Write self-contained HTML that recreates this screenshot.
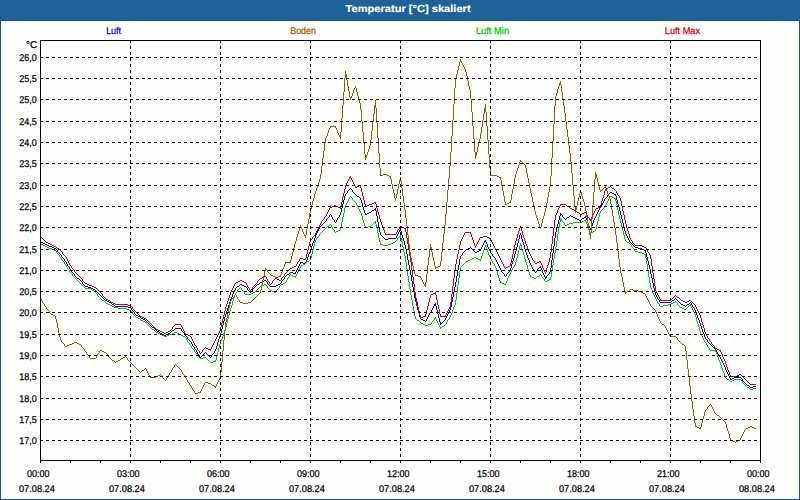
<!DOCTYPE html>
<html><head><meta charset="utf-8"><title>Temperatur</title>
<style>
html,body{margin:0;padding:0;background:#fff;}
body{width:800px;height:500px;overflow:hidden;font-family:"Liberation Sans",sans-serif;}
svg{display:block;}
text{font-family:"Liberation Sans",sans-serif;text-rendering:geometricPrecision;}
</style></head><body>
<svg width="800" height="500" viewBox="0 0 800 500">
<rect x="0" y="0" width="800" height="500" fill="#fdfefc"/>
<defs><pattern id="dz" x="0" y="0" width="8" height="8" patternUnits="userSpaceOnUse"><path fill="#2366a8" d="M2 0h1v1h-1zM4 1h1v1h-1zM7 2h1v1h-1zM3 3h1v1h-1zM1 4h1v1h-1zM6 4h1v1h-1zM2 6h1v1h-1zM4 7h1v1h-1zM7 7h1v1h-1z"/></pattern></defs>
<g shape-rendering="crispEdges">
<rect x="0" y="21" width="1" height="479" fill="#10558f"/>
<rect x="799" y="21" width="1" height="479" fill="#10558f"/>
<rect x="0" y="499" width="800" height="1" fill="#10558f"/>
<rect x="0" y="0" width="800" height="21" fill="#1d6196"/>
<rect x="0" y="0" width="800" height="20" fill="url(#dz)"/>
<rect x="0" y="20" width="800" height="1" fill="#175585"/>
</g>
<text x="345.6" y="12.0" font-size="10.2" font-weight="bold" fill="#ffffff" stroke="#ffffff" stroke-width="0.15" textLength="125.0" lengthAdjust="spacingAndGlyphs">Temperatur [°C] skaliert</text>
<text x="106.2" y="34.0" font-size="9.8" fill="#0000d0" stroke="#0000d0" stroke-width="0.25" textLength="14.8" lengthAdjust="spacingAndGlyphs">Luft</text>
<text x="290.3" y="34.0" font-size="9.8" fill="#9a5a00" stroke="#9a5a00" stroke-width="0.25" textLength="25.6" lengthAdjust="spacingAndGlyphs">Boden</text>
<text x="475.9" y="34.0" font-size="9.8" fill="#00c400" stroke="#00c400" stroke-width="0.25" textLength="33.2" lengthAdjust="spacingAndGlyphs">Luft Min</text>
<text x="664.8" y="34.0" font-size="9.8" fill="#d00000" stroke="#d00000" stroke-width="0.25" textLength="35.2" lengthAdjust="spacingAndGlyphs">Luft Max</text>
<g shape-rendering="crispEdges" stroke="none">
<path fill="#0000e6" d="M40 241h1v1h-1zM41 242h1v1h-1zM42 242h1v1h-1zM43 243h1v1h-1zM44 243h1v1h-1zM45 244h1v1h-1zM46 244h1v1h-1zM47 245h1v1h-1zM48 245h1v1h-1zM49 246h1v1h-1zM50 246h1v1h-1zM51 246h1v1h-1zM52 247h1v1h-1zM53 247h1v1h-1zM54 248h1v1h-1zM55 248h1v1h-1zM56 249h1v1h-1zM57 250h1v2h-1zM58 252h1v1h-1zM59 253h1v1h-1zM60 254h1v1h-1zM61 255h1v2h-1zM62 257h1v1h-1zM63 258h1v1h-1zM64 259h1v2h-1zM65 261h1v1h-1zM66 262h1v2h-1zM67 264h1v2h-1zM68 266h1v1h-1zM69 267h1v2h-1zM70 269h1v1h-1zM71 270h1v2h-1zM72 272h1v1h-1zM73 273h1v1h-1zM74 274h1v2h-1zM75 276h1v1h-1zM76 277h1v1h-1zM77 278h1v1h-1zM78 278h1v1h-1zM79 279h1v1h-1zM80 280h1v1h-1zM81 281h1v1h-1zM82 282h1v2h-1zM83 284h1v1h-1zM84 285h1v1h-1zM85 286h1v1h-1zM86 286h1v1h-1zM87 286h1v1h-1zM88 287h1v1h-1zM89 287h1v1h-1zM90 287h1v1h-1zM91 288h1v1h-1zM92 288h1v1h-1zM93 289h1v1h-1zM94 289h1v1h-1zM95 290h1v1h-1zM96 291h1v1h-1zM97 292h1v1h-1zM98 293h1v1h-1zM99 294h1v1h-1zM100 295h1v1h-1zM101 296h1v1h-1zM102 297h1v1h-1zM103 298h1v1h-1zM104 299h1v1h-1zM105 300h1v1h-1zM106 300h1v1h-1zM107 301h1v1h-1zM108 301h1v1h-1zM109 302h1v1h-1zM110 302h1v1h-1zM111 303h1v1h-1zM112 304h1v1h-1zM113 304h1v1h-1zM114 305h1v1h-1zM115 306h1v1h-1zM116 306h1v1h-1zM117 306h1v1h-1zM118 306h1v1h-1zM119 306h1v1h-1zM120 306h1v1h-1zM121 306h1v1h-1zM122 306h1v1h-1zM123 306h1v1h-1zM124 306h1v1h-1zM125 306h1v1h-1zM126 306h1v1h-1zM127 306h1v1h-1zM128 307h1v1h-1zM129 307h1v1h-1zM130 307h1v1h-1zM131 308h1v2h-1zM132 310h1v1h-1zM133 311h1v1h-1zM134 312h1v2h-1zM135 314h1v1h-1zM136 315h1v1h-1zM137 315h1v1h-1zM138 316h1v1h-1zM139 316h1v1h-1zM140 317h1v1h-1zM141 318h1v1h-1zM142 318h1v1h-1zM143 319h1v1h-1zM144 319h1v1h-1zM145 320h1v1h-1zM146 321h1v1h-1zM147 322h1v1h-1zM148 323h1v1h-1zM149 324h1v1h-1zM150 325h1v1h-1zM151 326h1v1h-1zM152 327h1v1h-1zM153 327h1v1h-1zM154 328h1v1h-1zM155 329h1v1h-1zM156 330h1v1h-1zM157 331h1v1h-1zM158 331h1v1h-1zM159 332h1v1h-1zM160 333h1v1h-1zM161 333h1v1h-1zM162 334h1v1h-1zM163 334h1v1h-1zM164 335h1v1h-1zM165 335h1v1h-1zM166 334h1v1h-1zM167 334h1v1h-1zM168 333h1v1h-1zM169 333h1v1h-1zM170 332h1v1h-1zM171 331h1v1h-1zM172 330h1v1h-1zM173 330h1v1h-1zM174 329h1v1h-1zM175 328h1v1h-1zM176 328h1v1h-1zM177 328h1v1h-1zM178 328h1v1h-1zM179 328h1v1h-1zM180 328h1v1h-1zM181 329h1v2h-1zM182 331h1v1h-1zM183 332h1v1h-1zM184 333h1v2h-1zM185 335h1v1h-1zM186 336h1v1h-1zM187 337h1v2h-1zM188 339h1v1h-1zM189 340h1v1h-1zM190 341h1v1h-1zM191 342h1v2h-1zM192 344h1v2h-1zM193 346h1v1h-1zM194 347h1v2h-1zM195 349h1v1h-1zM196 350h1v2h-1zM197 352h1v2h-1zM198 354h1v1h-1zM199 355h1v2h-1zM200 357h1v1h-1zM201 356h1v1h-1zM202 355h1v1h-1zM203 354h1v1h-1zM204 353h1v1h-1zM205 352h1v1h-1zM206 353h1v1h-1zM207 354h1v1h-1zM208 355h1v1h-1zM209 356h1v1h-1zM210 357h1v1h-1zM211 355h1v2h-1zM212 354h1v1h-1zM213 353h1v1h-1zM214 351h1v2h-1zM215 349h1v2h-1zM216 346h1v3h-1zM217 342h1v4h-1zM218 339h1v3h-1zM219 336h1v3h-1zM220 333h1v3h-1zM221 329h1v4h-1zM222 325h1v4h-1zM223 321h1v4h-1zM224 317h1v4h-1zM225 314h1v3h-1zM226 311h1v3h-1zM227 308h1v3h-1zM228 305h1v3h-1zM229 302h1v3h-1zM230 299h1v3h-1zM231 297h1v2h-1zM232 294h1v3h-1zM233 292h1v2h-1zM234 290h1v2h-1zM235 288h1v2h-1zM236 287h1v1h-1zM237 286h1v1h-1zM238 286h1v1h-1zM239 285h1v1h-1zM240 284h1v1h-1zM241 284h1v1h-1zM242 285h1v1h-1zM243 285h1v1h-1zM244 286h1v1h-1zM245 286h1v1h-1zM246 287h1v1h-1zM247 288h1v2h-1zM248 290h1v1h-1zM249 291h1v1h-1zM250 292h1v1h-1zM251 291h1v1h-1zM252 289h1v2h-1zM253 288h1v1h-1zM254 287h1v1h-1zM255 286h1v1h-1zM256 285h1v1h-1zM257 284h1v1h-1zM258 284h1v1h-1zM259 283h1v1h-1zM260 282h1v1h-1zM261 282h1v1h-1zM262 281h1v1h-1zM263 281h1v1h-1zM264 280h1v1h-1zM265 280h1v1h-1zM266 281h1v1h-1zM267 282h1v2h-1zM268 284h1v1h-1zM269 285h1v1h-1zM270 286h1v1h-1zM271 286h1v1h-1zM272 286h1v1h-1zM273 286h1v1h-1zM274 286h1v1h-1zM275 286h1v1h-1zM276 285h1v1h-1zM277 285h1v1h-1zM278 284h1v1h-1zM279 284h1v1h-1zM280 283h1v1h-1zM281 281h1v2h-1zM282 280h1v1h-1zM283 279h1v1h-1zM284 277h1v2h-1zM285 276h1v1h-1zM286 275h1v1h-1zM287 274h1v1h-1zM288 274h1v1h-1zM289 273h1v1h-1zM290 272h1v1h-1zM291 272h1v1h-1zM292 272h1v1h-1zM293 273h1v1h-1zM294 273h1v1h-1zM295 272h1v2h-1zM296 270h1v2h-1zM297 268h1v2h-1zM298 266h1v2h-1zM299 264h1v2h-1zM300 262h1v2h-1zM301 262h1v1h-1zM302 262h1v1h-1zM303 263h1v1h-1zM304 263h1v1h-1zM305 262h1v2h-1zM306 260h1v2h-1zM307 257h1v3h-1zM308 254h1v3h-1zM309 252h1v2h-1zM310 249h1v3h-1zM311 246h1v3h-1zM312 243h1v3h-1zM313 241h1v2h-1zM314 238h1v3h-1zM315 235h1v3h-1zM316 233h1v2h-1zM317 231h1v2h-1zM318 229h1v2h-1zM319 227h1v2h-1zM320 226h1v1h-1zM321 225h1v1h-1zM322 224h1v1h-1zM323 223h1v1h-1zM324 222h1v1h-1zM325 221h1v1h-1zM326 219h1v2h-1zM327 218h1v1h-1zM328 217h1v1h-1zM329 215h1v2h-1zM330 214h1v1h-1zM331 215h1v2h-1zM332 217h1v2h-1zM333 219h1v1h-1zM334 220h1v2h-1zM335 222h1v1h-1zM336 220h1v2h-1zM337 218h1v2h-1zM338 217h1v1h-1zM339 215h1v2h-1zM340 212h1v3h-1zM341 208h1v4h-1zM342 204h1v4h-1zM343 200h1v4h-1zM344 196h1v4h-1zM345 194h1v2h-1zM346 193h1v1h-1zM347 191h1v2h-1zM348 190h1v1h-1zM349 189h1v1h-1zM350 188h1v1h-1zM351 189h1v1h-1zM352 190h1v2h-1zM353 192h1v1h-1zM354 193h1v1h-1zM355 194h1v1h-1zM356 195h1v1h-1zM357 196h1v1h-1zM358 196h1v1h-1zM359 197h1v1h-1zM360 198h1v2h-1zM361 200h1v3h-1zM362 203h1v4h-1zM363 207h1v3h-1zM364 210h1v3h-1zM365 213h1v2h-1zM366 214h1v1h-1zM367 213h1v1h-1zM368 213h1v1h-1zM369 212h1v1h-1zM370 212h1v1h-1zM371 211h1v1h-1zM372 210h1v1h-1zM373 210h1v1h-1zM374 209h1v1h-1zM375 208h1v3h-1zM376 211h1v5h-1zM377 216h1v6h-1zM378 222h1v5h-1zM379 227h1v5h-1zM380 232h1v3h-1zM381 235h1v1h-1zM382 236h1v1h-1zM383 237h1v1h-1zM384 238h1v1h-1zM385 239h1v1h-1zM386 239h1v1h-1zM387 239h1v1h-1zM388 238h1v1h-1zM389 238h1v1h-1zM390 238h1v1h-1zM391 238h1v1h-1zM392 238h1v1h-1zM393 238h1v1h-1zM394 238h1v1h-1zM395 238h1v1h-1zM396 236h1v2h-1zM397 234h1v2h-1zM398 232h1v2h-1zM399 230h1v2h-1zM400 229h1v2h-1zM401 231h1v4h-1zM402 235h1v3h-1zM403 238h1v3h-1zM404 241h1v4h-1zM405 245h1v4h-1zM406 249h1v5h-1zM407 254h1v6h-1zM408 260h1v5h-1zM409 265h1v5h-1zM410 270h1v5h-1zM411 275h1v6h-1zM412 281h1v6h-1zM413 287h1v5h-1zM414 292h1v6h-1zM415 298h1v4h-1zM416 302h1v4h-1zM417 306h1v4h-1zM418 310h1v3h-1zM419 313h1v4h-1zM420 317h1v2h-1zM421 319h1v1h-1zM422 319h1v1h-1zM423 320h1v1h-1zM424 320h1v1h-1zM425 321h1v1h-1zM426 319h1v2h-1zM427 317h1v2h-1zM428 315h1v2h-1zM429 313h1v2h-1zM430 312h1v1h-1zM431 310h1v2h-1zM432 308h1v2h-1zM433 306h1v2h-1zM434 304h1v2h-1zM435 303h1v3h-1zM436 306h1v4h-1zM437 310h1v4h-1zM438 314h1v4h-1zM439 318h1v4h-1zM440 322h1v3h-1zM441 323h1v1h-1zM442 322h1v1h-1zM443 321h1v1h-1zM444 320h1v1h-1zM445 318h1v2h-1zM446 316h1v2h-1zM447 314h1v2h-1zM448 312h1v2h-1zM449 310h1v2h-1zM450 307h1v3h-1zM451 302h1v5h-1zM452 297h1v5h-1zM453 292h1v5h-1zM454 287h1v5h-1zM455 282h1v5h-1zM456 276h1v6h-1zM457 270h1v6h-1zM458 265h1v5h-1zM459 259h1v6h-1zM460 256h1v3h-1zM461 255h1v1h-1zM462 253h1v2h-1zM463 252h1v1h-1zM464 251h1v1h-1zM465 250h1v1h-1zM466 249h1v1h-1zM467 249h1v1h-1zM468 248h1v1h-1zM469 248h1v1h-1zM470 247h1v1h-1zM471 248h1v1h-1zM472 249h1v1h-1zM473 250h1v1h-1zM474 251h1v1h-1zM475 252h1v1h-1zM476 252h1v1h-1zM477 251h1v1h-1zM478 251h1v1h-1zM479 250h1v1h-1zM480 249h1v2h-1zM481 247h1v2h-1zM482 245h1v2h-1zM483 243h1v2h-1zM484 241h1v2h-1zM485 240h1v2h-1zM486 242h1v2h-1zM487 244h1v3h-1zM488 247h1v2h-1zM489 249h1v2h-1zM490 251h1v2h-1zM491 253h1v1h-1zM492 254h1v2h-1zM493 256h1v1h-1zM494 257h1v1h-1zM495 258h1v2h-1zM496 260h1v2h-1zM497 262h1v2h-1zM498 264h1v2h-1zM499 266h1v2h-1zM500 268h1v2h-1zM501 270h1v2h-1zM502 272h1v1h-1zM503 273h1v1h-1zM504 274h1v2h-1zM505 276h1v1h-1zM506 274h1v2h-1zM507 273h1v1h-1zM508 272h1v1h-1zM509 270h1v2h-1zM510 268h1v2h-1zM511 264h1v4h-1zM512 261h1v3h-1zM513 258h1v3h-1zM514 254h1v4h-1zM515 251h1v3h-1zM516 247h1v4h-1zM517 243h1v4h-1zM518 239h1v4h-1zM519 235h1v4h-1zM520 233h1v2h-1zM521 235h1v4h-1zM522 239h1v3h-1zM523 242h1v3h-1zM524 245h1v4h-1zM525 249h1v3h-1zM526 252h1v3h-1zM527 255h1v3h-1zM528 258h1v2h-1zM529 260h1v3h-1zM530 263h1v2h-1zM531 265h1v2h-1zM532 267h1v2h-1zM533 269h1v1h-1zM534 270h1v2h-1zM535 272h1v1h-1zM536 271h1v1h-1zM537 269h1v2h-1zM538 268h1v1h-1zM539 267h1v1h-1zM540 266h1v2h-1zM541 268h1v2h-1zM542 270h1v3h-1zM543 273h1v2h-1zM544 275h1v2h-1zM545 277h1v2h-1zM546 276h1v2h-1zM547 275h1v1h-1zM548 274h1v1h-1zM549 272h1v2h-1zM550 268h1v4h-1zM551 260h1v8h-1zM552 253h1v7h-1zM553 246h1v7h-1zM554 238h1v8h-1zM555 232h1v6h-1zM556 228h1v4h-1zM557 224h1v4h-1zM558 220h1v4h-1zM559 216h1v4h-1zM560 213h1v3h-1zM561 214h1v1h-1zM562 215h1v2h-1zM563 217h1v1h-1zM564 218h1v1h-1zM565 219h1v1h-1zM566 218h1v1h-1zM567 217h1v1h-1zM568 217h1v1h-1zM569 216h1v1h-1zM570 215h1v1h-1zM571 216h1v1h-1zM572 216h1v1h-1zM573 217h1v1h-1zM574 217h1v1h-1zM575 218h1v1h-1zM576 218h1v1h-1zM577 219h1v1h-1zM578 219h1v1h-1zM579 220h1v1h-1zM580 220h1v1h-1zM581 219h1v1h-1zM582 218h1v1h-1zM583 218h1v1h-1zM584 217h1v1h-1zM585 216h1v2h-1zM586 218h1v2h-1zM587 220h1v3h-1zM588 223h1v3h-1zM589 226h1v2h-1zM590 228h1v2h-1zM591 226h1v2h-1zM592 223h1v3h-1zM593 220h1v3h-1zM594 218h1v2h-1zM595 216h1v2h-1zM596 214h1v2h-1zM597 212h1v2h-1zM598 210h1v2h-1zM599 208h1v2h-1zM600 207h1v1h-1zM601 205h1v2h-1zM602 203h1v2h-1zM603 201h1v2h-1zM604 199h1v2h-1zM605 198h1v1h-1zM606 197h1v1h-1zM607 195h1v2h-1zM608 194h1v1h-1zM609 193h1v1h-1zM610 192h1v1h-1zM611 192h1v1h-1zM612 193h1v1h-1zM613 193h1v1h-1zM614 194h1v1h-1zM615 194h1v2h-1zM616 196h1v4h-1zM617 200h1v4h-1zM618 204h1v3h-1zM619 207h1v4h-1zM620 211h1v4h-1zM621 215h1v4h-1zM622 219h1v4h-1zM623 223h1v4h-1zM624 227h1v4h-1zM625 231h1v3h-1zM626 234h1v2h-1zM627 236h1v2h-1zM628 238h1v2h-1zM629 240h1v2h-1zM630 242h1v1h-1zM631 243h1v1h-1zM632 244h1v1h-1zM633 245h1v1h-1zM634 246h1v1h-1zM635 247h1v1h-1zM636 247h1v1h-1zM637 247h1v1h-1zM638 248h1v1h-1zM639 248h1v1h-1zM640 248h1v1h-1zM641 248h1v1h-1zM642 249h1v1h-1zM643 249h1v1h-1zM644 250h1v1h-1zM645 250h1v3h-1zM646 253h1v4h-1zM647 257h1v4h-1zM648 261h1v4h-1zM649 265h1v4h-1zM650 269h1v5h-1zM651 274h1v4h-1zM652 278h1v5h-1zM653 283h1v5h-1zM654 288h1v4h-1zM655 292h1v3h-1zM656 295h1v2h-1zM657 297h1v2h-1zM658 299h1v1h-1zM659 300h1v2h-1zM660 302h1v1h-1zM661 302h1v1h-1zM662 302h1v1h-1zM663 302h1v1h-1zM664 302h1v1h-1zM665 302h1v1h-1zM666 302h1v1h-1zM667 302h1v1h-1zM668 302h1v1h-1zM669 302h1v1h-1zM670 302h1v1h-1zM671 301h1v1h-1zM672 300h1v1h-1zM673 300h1v1h-1zM674 299h1v1h-1zM675 298h1v1h-1zM676 299h1v1h-1zM677 300h1v1h-1zM678 301h1v1h-1zM679 302h1v1h-1zM680 303h1v1h-1zM681 304h1v1h-1zM682 304h1v1h-1zM683 305h1v1h-1zM684 305h1v1h-1zM685 306h1v1h-1zM686 305h1v1h-1zM687 304h1v1h-1zM688 304h1v1h-1zM689 303h1v1h-1zM690 302h1v1h-1zM691 303h1v2h-1zM692 305h1v2h-1zM693 307h1v1h-1zM694 308h1v2h-1zM695 310h1v2h-1zM696 312h1v3h-1zM697 315h1v3h-1zM698 318h1v2h-1zM699 320h1v3h-1zM700 323h1v3h-1zM701 326h1v3h-1zM702 329h1v3h-1zM703 332h1v2h-1zM704 334h1v3h-1zM705 337h1v2h-1zM706 339h1v1h-1zM707 340h1v2h-1zM708 342h1v1h-1zM709 343h1v1h-1zM710 344h1v1h-1zM711 345h1v1h-1zM712 346h1v1h-1zM713 347h1v1h-1zM714 348h1v1h-1zM715 349h1v1h-1zM716 350h1v2h-1zM717 352h1v2h-1zM718 354h1v1h-1zM719 355h1v2h-1zM720 357h1v2h-1zM721 359h1v2h-1zM722 361h1v2h-1zM723 363h1v2h-1zM724 365h1v2h-1zM725 367h1v3h-1zM726 370h1v2h-1zM727 372h1v2h-1zM728 374h1v2h-1zM729 376h1v2h-1zM730 378h1v2h-1zM731 379h1v1h-1zM732 378h1v1h-1zM733 378h1v1h-1zM734 377h1v1h-1zM735 377h1v1h-1zM736 377h1v1h-1zM737 377h1v1h-1zM738 377h1v1h-1zM739 377h1v1h-1zM740 377h1v1h-1zM741 378h1v1h-1zM742 379h1v2h-1zM743 381h1v1h-1zM744 382h1v1h-1zM745 383h1v1h-1zM746 384h1v1h-1zM747 385h1v1h-1zM748 385h1v1h-1zM749 386h1v1h-1zM750 387h1v1h-1zM751 387h1v1h-1zM752 387h1v1h-1zM753 386h1v1h-1zM754 386h1v1h-1zM755 386h1v1h-1z"/>
<path fill="#9a5a00" d="M40 298h1v1h-1zM41 299h1v2h-1zM42 301h1v2h-1zM43 303h1v1h-1zM44 304h1v2h-1zM45 306h1v1h-1zM46 307h1v2h-1zM47 309h1v1h-1zM48 310h1v1h-1zM49 311h1v2h-1zM50 313h1v1h-1zM51 314h1v1h-1zM52 314h1v1h-1zM53 315h1v1h-1zM54 315h1v1h-1zM55 316h1v3h-1zM56 319h1v4h-1zM57 323h1v5h-1zM58 328h1v5h-1zM59 333h1v4h-1zM60 337h1v3h-1zM61 340h1v2h-1zM62 342h1v1h-1zM63 343h1v1h-1zM64 344h1v2h-1zM65 346h1v1h-1zM66 346h1v1h-1zM67 345h1v1h-1zM68 345h1v1h-1zM69 344h1v1h-1zM70 344h1v1h-1zM71 344h1v1h-1zM72 343h1v1h-1zM73 343h1v1h-1zM74 342h1v1h-1zM75 342h1v1h-1zM76 342h1v1h-1zM77 343h1v1h-1zM78 343h1v1h-1zM79 344h1v1h-1zM80 344h1v1h-1zM81 345h1v2h-1zM82 347h1v1h-1zM83 348h1v1h-1zM84 349h1v2h-1zM85 351h1v1h-1zM86 352h1v2h-1zM87 354h1v1h-1zM88 355h1v1h-1zM89 356h1v2h-1zM90 358h1v1h-1zM91 358h1v1h-1zM92 358h1v1h-1zM93 358h1v1h-1zM94 358h1v1h-1zM95 358h1v1h-1zM96 356h1v2h-1zM97 354h1v2h-1zM98 353h1v1h-1zM99 351h1v2h-1zM100 350h1v1h-1zM101 350h1v1h-1zM102 351h1v1h-1zM103 351h1v1h-1zM104 352h1v1h-1zM105 352h1v1h-1zM106 353h1v1h-1zM107 354h1v2h-1zM108 356h1v1h-1zM109 357h1v1h-1zM110 358h1v1h-1zM111 359h1v1h-1zM112 360h1v1h-1zM113 360h1v1h-1zM114 361h1v1h-1zM115 362h1v1h-1zM116 361h1v1h-1zM117 361h1v1h-1zM118 360h1v1h-1zM119 360h1v1h-1zM120 359h1v1h-1zM121 358h1v1h-1zM122 358h1v1h-1zM123 357h1v1h-1zM124 357h1v1h-1zM125 356h1v1h-1zM126 357h1v1h-1zM127 358h1v2h-1zM128 360h1v1h-1zM129 361h1v1h-1zM130 362h1v1h-1zM131 363h1v1h-1zM132 364h1v1h-1zM133 365h1v1h-1zM134 366h1v1h-1zM135 367h1v1h-1zM136 368h1v1h-1zM137 369h1v1h-1zM138 370h1v1h-1zM139 371h1v1h-1zM140 372h1v1h-1zM141 371h1v1h-1zM142 370h1v1h-1zM143 370h1v1h-1zM144 369h1v1h-1zM145 368h1v1h-1zM146 369h1v2h-1zM147 371h1v2h-1zM148 373h1v2h-1zM149 375h1v2h-1zM150 377h1v1h-1zM151 377h1v1h-1zM152 377h1v1h-1zM153 377h1v1h-1zM154 377h1v1h-1zM155 377h1v1h-1zM156 376h1v1h-1zM157 376h1v1h-1zM158 375h1v1h-1zM159 375h1v1h-1zM160 374h1v1h-1zM161 375h1v1h-1zM162 376h1v2h-1zM163 378h1v1h-1zM164 379h1v1h-1zM165 380h1v1h-1zM166 378h1v2h-1zM167 376h1v2h-1zM168 375h1v1h-1zM169 373h1v2h-1zM170 372h1v1h-1zM171 370h1v2h-1zM172 368h1v2h-1zM173 367h1v1h-1zM174 365h1v2h-1zM175 364h1v1h-1zM176 365h1v1h-1zM177 366h1v1h-1zM178 367h1v1h-1zM179 368h1v1h-1zM180 369h1v1h-1zM181 370h1v2h-1zM182 372h1v2h-1zM183 374h1v1h-1zM184 375h1v2h-1zM185 377h1v1h-1zM186 378h1v2h-1zM187 380h1v2h-1zM188 382h1v1h-1zM189 383h1v2h-1zM190 385h1v1h-1zM191 386h1v2h-1zM192 388h1v2h-1zM193 390h1v1h-1zM194 391h1v2h-1zM195 393h1v1h-1zM196 393h1v1h-1zM197 393h1v1h-1zM198 392h1v1h-1zM199 392h1v1h-1zM200 391h1v2h-1zM201 389h1v2h-1zM202 387h1v2h-1zM203 385h1v2h-1zM204 383h1v2h-1zM205 382h1v1h-1zM206 382h1v1h-1zM207 382h1v1h-1zM208 383h1v1h-1zM209 383h1v1h-1zM210 383h1v1h-1zM211 384h1v1h-1zM212 385h1v1h-1zM213 385h1v1h-1zM214 386h1v1h-1zM215 386h1v2h-1zM216 384h1v2h-1zM217 382h1v2h-1zM218 380h1v2h-1zM219 378h1v2h-1zM220 372h1v6h-1zM221 362h1v10h-1zM222 351h1v11h-1zM223 340h1v11h-1zM224 330h1v10h-1zM225 322h1v8h-1zM226 318h1v4h-1zM227 313h1v5h-1zM228 308h1v5h-1zM229 304h1v4h-1zM230 301h1v3h-1zM231 299h1v2h-1zM232 298h1v1h-1zM233 297h1v1h-1zM234 295h1v2h-1zM235 294h1v1h-1zM236 295h1v2h-1zM237 297h1v2h-1zM238 299h1v1h-1zM239 300h1v2h-1zM240 302h1v1h-1zM241 302h1v1h-1zM242 302h1v1h-1zM243 303h1v1h-1zM244 303h1v1h-1zM245 303h1v1h-1zM246 303h1v1h-1zM247 303h1v1h-1zM248 302h1v1h-1zM249 302h1v1h-1zM250 302h1v1h-1zM251 301h1v1h-1zM252 300h1v1h-1zM253 299h1v1h-1zM254 298h1v1h-1zM255 297h1v1h-1zM256 296h1v1h-1zM257 295h1v1h-1zM258 294h1v1h-1zM259 293h1v1h-1zM260 290h1v3h-1zM261 285h1v5h-1zM262 280h1v5h-1zM263 276h1v4h-1zM264 271h1v5h-1zM265 268h1v3h-1zM266 269h1v1h-1zM267 270h1v2h-1zM268 272h1v1h-1zM269 273h1v1h-1zM270 274h1v1h-1zM271 275h1v1h-1zM272 275h1v1h-1zM273 276h1v1h-1zM274 276h1v1h-1zM275 277h1v1h-1zM276 277h1v1h-1zM277 277h1v1h-1zM278 276h1v1h-1zM279 276h1v1h-1zM280 275h1v2h-1zM281 272h1v3h-1zM282 269h1v3h-1zM283 267h1v2h-1zM284 264h1v3h-1zM285 262h1v2h-1zM286 262h1v1h-1zM287 262h1v1h-1zM288 262h1v1h-1zM289 262h1v1h-1zM290 260h1v3h-1zM291 256h1v4h-1zM292 252h1v4h-1zM293 248h1v4h-1zM294 244h1v4h-1zM295 241h1v3h-1zM296 237h1v4h-1zM297 234h1v3h-1zM298 231h1v3h-1zM299 227h1v4h-1zM300 225h1v2h-1zM301 227h1v2h-1zM302 229h1v3h-1zM303 232h1v2h-1zM304 234h1v2h-1zM305 235h1v3h-1zM306 229h1v6h-1zM307 224h1v5h-1zM308 219h1v5h-1zM309 213h1v6h-1zM310 209h1v4h-1zM311 205h1v4h-1zM312 201h1v4h-1zM313 198h1v3h-1zM314 194h1v4h-1zM315 191h1v3h-1zM316 188h1v3h-1zM317 185h1v3h-1zM318 182h1v3h-1zM319 179h1v3h-1zM320 174h1v5h-1zM321 166h1v8h-1zM322 158h1v8h-1zM323 151h1v7h-1zM324 143h1v8h-1zM325 138h1v5h-1zM326 136h1v2h-1zM327 133h1v3h-1zM328 130h1v3h-1zM329 128h1v2h-1zM330 126h1v2h-1zM331 126h1v1h-1zM332 126h1v1h-1zM333 126h1v1h-1zM334 126h1v1h-1zM335 126h1v2h-1zM336 128h1v2h-1zM337 130h1v3h-1zM338 133h1v2h-1zM339 135h1v2h-1zM340 132h1v7h-1zM341 118h1v14h-1zM342 105h1v13h-1zM343 92h1v13h-1zM344 78h1v14h-1zM345 71h1v7h-1zM346 74h1v6h-1zM347 80h1v6h-1zM348 86h1v5h-1zM349 91h1v6h-1zM350 97h1v3h-1zM351 96h1v2h-1zM352 93h1v3h-1zM353 90h1v3h-1zM354 88h1v2h-1zM355 86h1v2h-1zM356 88h1v4h-1zM357 92h1v4h-1zM358 96h1v3h-1zM359 99h1v4h-1zM360 103h1v7h-1zM361 110h1v11h-1zM362 121h1v11h-1zM363 132h1v11h-1zM364 143h1v11h-1zM365 154h1v6h-1zM366 155h1v3h-1zM367 152h1v3h-1zM368 149h1v3h-1zM369 146h1v3h-1zM370 140h1v6h-1zM371 131h1v9h-1zM372 122h1v9h-1zM373 114h1v8h-1zM374 105h1v9h-1zM375 100h1v8h-1zM376 108h1v15h-1zM377 123h1v15h-1zM378 138h1v15h-1zM379 153h1v15h-1zM380 168h1v8h-1zM381 175h1v1h-1zM382 175h1v1h-1zM383 174h1v1h-1zM384 174h1v1h-1zM385 174h1v1h-1zM386 174h1v1h-1zM387 175h1v1h-1zM388 175h1v1h-1zM389 176h1v1h-1zM390 176h1v3h-1zM391 179h1v5h-1zM392 184h1v5h-1zM393 189h1v4h-1zM394 193h1v5h-1zM395 198h1v3h-1zM396 194h1v4h-1zM397 189h1v5h-1zM398 184h1v5h-1zM399 180h1v4h-1zM400 177h1v4h-1zM401 181h1v7h-1zM402 188h1v8h-1zM403 196h1v7h-1zM404 203h1v7h-1zM405 210h1v8h-1zM406 218h1v8h-1zM407 226h1v9h-1zM408 235h1v9h-1zM409 244h1v8h-1zM410 252h1v6h-1zM411 258h1v4h-1zM412 262h1v4h-1zM413 266h1v4h-1zM414 270h1v4h-1zM415 274h1v2h-1zM416 275h1v1h-1zM417 275h1v1h-1zM418 276h1v1h-1zM419 276h1v1h-1zM420 276h1v2h-1zM421 278h1v2h-1zM422 280h1v2h-1zM423 282h1v2h-1zM424 284h1v2h-1zM425 282h1v5h-1zM426 274h1v8h-1zM427 265h1v9h-1zM428 257h1v8h-1zM429 249h1v8h-1zM430 244h1v5h-1zM431 247h1v5h-1zM432 252h1v5h-1zM433 257h1v4h-1zM434 261h1v5h-1zM435 266h1v3h-1zM436 267h1v1h-1zM437 267h1v1h-1zM438 266h1v1h-1zM439 266h1v1h-1zM440 261h1v5h-1zM441 252h1v9h-1zM442 243h1v9h-1zM443 234h1v9h-1zM444 225h1v9h-1zM445 214h1v11h-1zM446 202h1v12h-1zM447 190h1v12h-1zM448 178h1v12h-1zM449 166h1v12h-1zM450 152h1v14h-1zM451 136h1v16h-1zM452 120h1v16h-1zM453 104h1v16h-1zM454 88h1v16h-1zM455 78h1v10h-1zM456 74h1v4h-1zM457 70h1v4h-1zM458 66h1v4h-1zM459 62h1v4h-1zM460 59h1v3h-1zM461 61h1v2h-1zM462 63h1v2h-1zM463 65h1v2h-1zM464 67h1v2h-1zM465 69h1v3h-1zM466 72h1v4h-1zM467 76h1v5h-1zM468 81h1v5h-1zM469 86h1v4h-1zM470 90h1v9h-1zM471 99h1v13h-1zM472 112h1v14h-1zM473 126h1v13h-1zM474 139h1v13h-1zM475 152h1v7h-1zM476 152h1v4h-1zM477 147h1v5h-1zM478 143h1v4h-1zM479 139h1v4h-1zM480 133h1v6h-1zM481 127h1v6h-1zM482 120h1v7h-1zM483 114h1v6h-1zM484 108h1v6h-1zM485 104h1v8h-1zM486 112h1v14h-1zM487 126h1v14h-1zM488 140h1v14h-1zM489 154h1v14h-1zM490 168h1v8h-1zM491 175h1v1h-1zM492 175h1v1h-1zM493 175h1v1h-1zM494 175h1v1h-1zM495 175h1v1h-1zM496 175h1v1h-1zM497 176h1v1h-1zM498 176h1v1h-1zM499 177h1v1h-1zM500 177h1v3h-1zM501 180h1v6h-1zM502 186h1v5h-1zM503 191h1v5h-1zM504 196h1v6h-1zM505 202h1v3h-1zM506 204h1v1h-1zM507 203h1v1h-1zM508 203h1v1h-1zM509 202h1v1h-1zM510 200h1v3h-1zM511 194h1v6h-1zM512 189h1v5h-1zM513 184h1v5h-1zM514 178h1v6h-1zM515 174h1v4h-1zM516 171h1v3h-1zM517 168h1v3h-1zM518 165h1v3h-1zM519 162h1v3h-1zM520 160h1v2h-1zM521 161h1v1h-1zM522 162h1v1h-1zM523 163h1v1h-1zM524 164h1v1h-1zM525 165h1v3h-1zM526 168h1v5h-1zM527 173h1v5h-1zM528 178h1v5h-1zM529 183h1v5h-1zM530 188h1v5h-1zM531 193h1v4h-1zM532 197h1v5h-1zM533 202h1v5h-1zM534 207h1v4h-1zM535 211h1v4h-1zM536 215h1v3h-1zM537 218h1v3h-1zM538 221h1v3h-1zM539 224h1v3h-1zM540 227h1v2h-1zM541 223h1v4h-1zM542 219h1v4h-1zM543 216h1v3h-1zM544 212h1v4h-1zM545 208h1v4h-1zM546 203h1v5h-1zM547 197h1v6h-1zM548 192h1v5h-1zM549 187h1v5h-1zM550 176h1v11h-1zM551 158h1v18h-1zM552 141h1v17h-1zM553 124h1v17h-1zM554 106h1v18h-1zM555 96h1v10h-1zM556 93h1v3h-1zM557 89h1v4h-1zM558 86h1v3h-1zM559 83h1v3h-1zM560 81h1v4h-1zM561 85h1v7h-1zM562 92h1v7h-1zM563 99h1v7h-1zM564 106h1v7h-1zM565 113h1v8h-1zM566 121h1v8h-1zM567 129h1v8h-1zM568 137h1v8h-1zM569 145h1v8h-1zM570 153h1v9h-1zM571 162h1v11h-1zM572 173h1v12h-1zM573 185h1v11h-1zM574 196h1v11h-1zM575 207h1v6h-1zM576 206h1v4h-1zM577 201h1v5h-1zM578 197h1v4h-1zM579 193h1v4h-1zM580 190h1v3h-1zM581 192h1v4h-1zM582 196h1v3h-1zM583 199h1v3h-1zM584 202h1v4h-1zM585 206h1v5h-1zM586 211h1v6h-1zM587 217h1v6h-1zM588 223h1v6h-1zM589 229h1v6h-1zM590 232h1v7h-1zM591 219h1v13h-1zM592 205h1v14h-1zM593 192h1v13h-1zM594 179h1v13h-1zM595 172h1v7h-1zM596 174h1v4h-1zM597 178h1v4h-1zM598 182h1v4h-1zM599 186h1v4h-1zM600 190h1v2h-1zM601 190h1v1h-1zM602 189h1v1h-1zM603 188h1v1h-1zM604 187h1v1h-1zM605 186h1v2h-1zM606 188h1v3h-1zM607 191h1v3h-1zM608 194h1v2h-1zM609 196h1v3h-1zM610 199h1v5h-1zM611 204h1v6h-1zM612 210h1v6h-1zM613 216h1v6h-1zM614 222h1v6h-1zM615 228h1v7h-1zM616 235h1v8h-1zM617 243h1v8h-1zM618 251h1v8h-1zM619 259h1v8h-1zM620 267h1v6h-1zM621 273h1v4h-1zM622 277h1v5h-1zM623 282h1v5h-1zM624 287h1v4h-1zM625 291h1v3h-1zM626 292h1v1h-1zM627 291h1v1h-1zM628 291h1v1h-1zM629 290h1v1h-1zM630 289h1v1h-1zM631 289h1v1h-1zM632 289h1v1h-1zM633 290h1v1h-1zM634 290h1v1h-1zM635 290h1v1h-1zM636 290h1v1h-1zM637 290h1v1h-1zM638 291h1v1h-1zM639 291h1v1h-1zM640 291h1v1h-1zM641 292h1v1h-1zM642 292h1v1h-1zM643 293h1v1h-1zM644 293h1v1h-1zM645 294h1v2h-1zM646 296h1v2h-1zM647 298h1v2h-1zM648 300h1v2h-1zM649 302h1v2h-1zM650 304h1v2h-1zM651 306h1v1h-1zM652 307h1v1h-1zM653 308h1v1h-1zM654 309h1v1h-1zM655 310h1v2h-1zM656 312h1v2h-1zM657 314h1v3h-1zM658 317h1v2h-1zM659 319h1v2h-1zM660 321h1v2h-1zM661 323h1v1h-1zM662 324h1v1h-1zM663 324h1v1h-1zM664 325h1v1h-1zM665 326h1v2h-1zM666 328h1v2h-1zM667 330h1v2h-1zM668 332h1v2h-1zM669 334h1v2h-1zM670 336h1v1h-1zM671 336h1v1h-1zM672 336h1v1h-1zM673 336h1v1h-1zM674 336h1v1h-1zM675 336h1v1h-1zM676 337h1v1h-1zM677 338h1v2h-1zM678 340h1v1h-1zM679 341h1v1h-1zM680 342h1v1h-1zM681 343h1v1h-1zM682 344h1v1h-1zM683 344h1v1h-1zM684 345h1v1h-1zM685 346h1v5h-1zM686 351h1v9h-1zM687 360h1v9h-1zM688 369h1v8h-1zM689 377h1v9h-1zM690 386h1v8h-1zM691 394h1v7h-1zM692 401h1v8h-1zM693 409h1v7h-1zM694 416h1v7h-1zM695 423h1v4h-1zM696 426h1v1h-1zM697 427h1v1h-1zM698 427h1v1h-1zM699 428h1v1h-1zM700 427h1v2h-1zM701 423h1v4h-1zM702 419h1v4h-1zM703 416h1v3h-1zM704 412h1v4h-1zM705 410h1v2h-1zM706 409h1v1h-1zM707 407h1v2h-1zM708 406h1v1h-1zM709 405h1v1h-1zM710 404h1v1h-1zM711 405h1v2h-1zM712 407h1v2h-1zM713 409h1v2h-1zM714 411h1v2h-1zM715 413h1v1h-1zM716 414h1v1h-1zM717 415h1v1h-1zM718 415h1v1h-1zM719 416h1v1h-1zM720 417h1v1h-1zM721 418h1v1h-1zM722 419h1v1h-1zM723 420h1v1h-1zM724 421h1v1h-1zM725 422h1v2h-1zM726 424h1v4h-1zM727 428h1v3h-1zM728 431h1v3h-1zM729 434h1v4h-1zM730 438h1v2h-1zM731 440h1v1h-1zM732 440h1v1h-1zM733 441h1v1h-1zM734 441h1v1h-1zM735 442h1v1h-1zM736 441h1v1h-1zM737 441h1v1h-1zM738 440h1v1h-1zM739 440h1v1h-1zM740 438h1v2h-1zM741 436h1v2h-1zM742 434h1v2h-1zM743 432h1v2h-1zM744 430h1v2h-1zM745 429h1v1h-1zM746 428h1v1h-1zM747 428h1v1h-1zM748 427h1v1h-1zM749 427h1v1h-1zM750 426h1v1h-1zM751 426h1v1h-1zM752 427h1v1h-1zM753 427h1v1h-1zM754 428h1v1h-1zM755 428h1v1h-1z"/>
<path fill="#00c800" d="M40 243h1v1h-1zM41 244h1v1h-1zM42 244h1v1h-1zM43 245h1v1h-1zM44 245h1v1h-1zM45 246h1v1h-1zM46 246h1v1h-1zM47 247h1v1h-1zM48 247h1v1h-1zM49 248h1v1h-1zM50 248h1v1h-1zM51 248h1v1h-1zM52 249h1v1h-1zM53 249h1v1h-1zM54 250h1v1h-1zM55 250h1v1h-1zM56 251h1v2h-1zM57 253h1v1h-1zM58 254h1v1h-1zM59 255h1v2h-1zM60 257h1v1h-1zM61 258h1v2h-1zM62 260h1v1h-1zM63 261h1v1h-1zM64 262h1v2h-1zM65 264h1v1h-1zM66 265h1v2h-1zM67 267h1v2h-1zM68 269h1v1h-1zM69 270h1v2h-1zM70 272h1v1h-1zM71 273h1v1h-1zM72 274h1v2h-1zM73 276h1v1h-1zM74 277h1v1h-1zM75 278h1v1h-1zM76 279h1v1h-1zM77 280h1v1h-1zM78 281h1v1h-1zM79 282h1v1h-1zM80 283h1v1h-1zM81 284h1v1h-1zM82 285h1v1h-1zM83 286h1v1h-1zM84 287h1v1h-1zM85 288h1v1h-1zM86 288h1v1h-1zM87 288h1v1h-1zM88 288h1v1h-1zM89 288h1v1h-1zM90 288h1v1h-1zM91 289h1v1h-1zM92 290h1v1h-1zM93 290h1v1h-1zM94 291h1v1h-1zM95 292h1v1h-1zM96 293h1v1h-1zM97 294h1v2h-1zM98 296h1v1h-1zM99 297h1v1h-1zM100 298h1v1h-1zM101 299h1v1h-1zM102 300h1v1h-1zM103 300h1v1h-1zM104 301h1v1h-1zM105 302h1v1h-1zM106 303h1v1h-1zM107 303h1v1h-1zM108 304h1v1h-1zM109 304h1v1h-1zM110 305h1v1h-1zM111 305h1v1h-1zM112 306h1v1h-1zM113 306h1v1h-1zM114 307h1v1h-1zM115 307h1v1h-1zM116 307h1v1h-1zM117 307h1v1h-1zM118 308h1v1h-1zM119 308h1v1h-1zM120 308h1v1h-1zM121 308h1v1h-1zM122 308h1v1h-1zM123 308h1v1h-1zM124 308h1v1h-1zM125 308h1v1h-1zM126 308h1v1h-1zM127 309h1v1h-1zM128 309h1v1h-1zM129 310h1v1h-1zM130 310h1v1h-1zM131 311h1v1h-1zM132 312h1v2h-1zM133 314h1v1h-1zM134 315h1v1h-1zM135 316h1v1h-1zM136 317h1v1h-1zM137 317h1v1h-1zM138 318h1v1h-1zM139 318h1v1h-1zM140 319h1v1h-1zM141 320h1v1h-1zM142 320h1v1h-1zM143 321h1v1h-1zM144 321h1v1h-1zM145 322h1v1h-1zM146 323h1v1h-1zM147 324h1v1h-1zM148 325h1v1h-1zM149 326h1v1h-1zM150 327h1v1h-1zM151 328h1v1h-1zM152 329h1v1h-1zM153 329h1v1h-1zM154 330h1v1h-1zM155 331h1v1h-1zM156 332h1v1h-1zM157 332h1v1h-1zM158 333h1v1h-1zM159 333h1v1h-1zM160 334h1v1h-1zM161 334h1v1h-1zM162 335h1v1h-1zM163 335h1v1h-1zM164 336h1v1h-1zM165 336h1v1h-1zM166 336h1v1h-1zM167 335h1v1h-1zM168 335h1v1h-1zM169 334h1v1h-1zM170 334h1v1h-1zM171 334h1v1h-1zM172 333h1v1h-1zM173 333h1v1h-1zM174 332h1v1h-1zM175 332h1v1h-1zM176 332h1v1h-1zM177 333h1v1h-1zM178 333h1v1h-1zM179 334h1v1h-1zM180 334h1v1h-1zM181 335h1v1h-1zM182 335h1v1h-1zM183 336h1v1h-1zM184 336h1v1h-1zM185 337h1v1h-1zM186 338h1v2h-1zM187 340h1v2h-1zM188 342h1v1h-1zM189 343h1v2h-1zM190 345h1v1h-1zM191 346h1v2h-1zM192 348h1v1h-1zM193 349h1v1h-1zM194 350h1v2h-1zM195 352h1v1h-1zM196 353h1v1h-1zM197 354h1v2h-1zM198 356h1v1h-1zM199 357h1v1h-1zM200 358h1v1h-1zM201 358h1v1h-1zM202 358h1v1h-1zM203 357h1v1h-1zM204 357h1v1h-1zM205 357h1v1h-1zM206 358h1v1h-1zM207 359h1v1h-1zM208 360h1v1h-1zM209 361h1v1h-1zM210 362h1v1h-1zM211 362h1v1h-1zM212 362h1v1h-1zM213 361h1v1h-1zM214 361h1v1h-1zM215 360h1v2h-1zM216 356h1v4h-1zM217 352h1v4h-1zM218 348h1v4h-1zM219 344h1v4h-1zM220 341h1v3h-1zM221 339h1v2h-1zM222 336h1v3h-1zM223 333h1v3h-1zM224 331h1v2h-1zM225 327h1v4h-1zM226 323h1v4h-1zM227 319h1v4h-1zM228 315h1v4h-1zM229 311h1v4h-1zM230 308h1v3h-1zM231 305h1v3h-1zM232 301h1v4h-1zM233 298h1v3h-1zM234 295h1v3h-1zM235 293h1v2h-1zM236 292h1v1h-1zM237 290h1v2h-1zM238 289h1v1h-1zM239 288h1v1h-1zM240 287h1v1h-1zM241 288h1v2h-1zM242 290h1v1h-1zM243 291h1v1h-1zM244 292h1v2h-1zM245 294h1v1h-1zM246 294h1v1h-1zM247 294h1v1h-1zM248 294h1v1h-1zM249 294h1v1h-1zM250 294h1v1h-1zM251 293h1v1h-1zM252 293h1v1h-1zM253 292h1v1h-1zM254 292h1v1h-1zM255 291h1v1h-1zM256 290h1v1h-1zM257 289h1v1h-1zM258 288h1v1h-1zM259 287h1v1h-1zM260 286h1v1h-1zM261 286h1v1h-1zM262 285h1v1h-1zM263 285h1v1h-1zM264 284h1v1h-1zM265 284h1v1h-1zM266 285h1v1h-1zM267 286h1v2h-1zM268 288h1v1h-1zM269 289h1v1h-1zM270 290h1v1h-1zM271 290h1v1h-1zM272 291h1v1h-1zM273 291h1v1h-1zM274 292h1v1h-1zM275 292h1v1h-1zM276 290h1v2h-1zM277 289h1v1h-1zM278 288h1v1h-1zM279 286h1v2h-1zM280 285h1v1h-1zM281 284h1v1h-1zM282 284h1v1h-1zM283 283h1v1h-1zM284 283h1v1h-1zM285 282h1v1h-1zM286 280h1v2h-1zM287 278h1v2h-1zM288 277h1v1h-1zM289 275h1v2h-1zM290 274h1v1h-1zM291 275h1v1h-1zM292 275h1v1h-1zM293 276h1v1h-1zM294 276h1v1h-1zM295 276h1v2h-1zM296 274h1v2h-1zM297 272h1v2h-1zM298 270h1v2h-1zM299 268h1v2h-1zM300 266h1v2h-1zM301 265h1v1h-1zM302 265h1v1h-1zM303 264h1v1h-1zM304 264h1v1h-1zM305 263h1v1h-1zM306 262h1v1h-1zM307 261h1v1h-1zM308 261h1v1h-1zM309 260h1v1h-1zM310 258h1v2h-1zM311 254h1v4h-1zM312 250h1v4h-1zM313 246h1v4h-1zM314 242h1v4h-1zM315 240h1v2h-1zM316 238h1v2h-1zM317 237h1v1h-1zM318 236h1v1h-1zM319 234h1v2h-1zM320 233h1v1h-1zM321 232h1v1h-1zM322 231h1v1h-1zM323 230h1v1h-1zM324 229h1v1h-1zM325 228h1v1h-1zM326 227h1v1h-1zM327 226h1v1h-1zM328 226h1v1h-1zM329 225h1v1h-1zM330 224h1v1h-1zM331 225h1v2h-1zM332 227h1v2h-1zM333 229h1v1h-1zM334 230h1v2h-1zM335 232h1v1h-1zM336 231h1v1h-1zM337 231h1v1h-1zM338 230h1v1h-1zM339 230h1v1h-1zM340 227h1v3h-1zM341 222h1v5h-1zM342 217h1v5h-1zM343 213h1v4h-1zM344 208h1v5h-1zM345 205h1v3h-1zM346 203h1v2h-1zM347 201h1v2h-1zM348 199h1v2h-1zM349 197h1v2h-1zM350 196h1v1h-1zM351 197h1v1h-1zM352 198h1v2h-1zM353 200h1v1h-1zM354 201h1v1h-1zM355 202h1v1h-1zM356 203h1v2h-1zM357 205h1v2h-1zM358 207h1v2h-1zM359 209h1v2h-1zM360 211h1v2h-1zM361 213h1v3h-1zM362 216h1v4h-1zM363 220h1v3h-1zM364 223h1v3h-1zM365 226h1v2h-1zM366 227h1v1h-1zM367 227h1v1h-1zM368 226h1v1h-1zM369 226h1v1h-1zM370 226h1v1h-1zM371 225h1v1h-1zM372 224h1v1h-1zM373 223h1v1h-1zM374 222h1v1h-1zM375 221h1v3h-1zM376 224h1v4h-1zM377 228h1v5h-1zM378 233h1v5h-1zM379 238h1v4h-1zM380 242h1v3h-1zM381 244h1v1h-1zM382 244h1v1h-1zM383 245h1v1h-1zM384 245h1v1h-1zM385 245h1v1h-1zM386 245h1v1h-1zM387 245h1v1h-1zM388 244h1v1h-1zM389 244h1v1h-1zM390 244h1v1h-1zM391 243h1v1h-1zM392 243h1v1h-1zM393 242h1v1h-1zM394 242h1v1h-1zM395 241h1v1h-1zM396 240h1v1h-1zM397 238h1v2h-1zM398 237h1v1h-1zM399 236h1v1h-1zM400 235h1v3h-1zM401 238h1v4h-1zM402 242h1v5h-1zM403 247h1v5h-1zM404 252h1v4h-1zM405 256h1v6h-1zM406 262h1v7h-1zM407 269h1v7h-1zM408 276h1v6h-1zM409 282h1v7h-1zM410 289h1v6h-1zM411 295h1v5h-1zM412 300h1v6h-1zM413 306h1v5h-1zM414 311h1v5h-1zM415 316h1v3h-1zM416 319h1v1h-1zM417 320h1v1h-1zM418 320h1v1h-1zM419 321h1v1h-1zM420 322h1v1h-1zM421 323h1v1h-1zM422 323h1v1h-1zM423 324h1v1h-1zM424 324h1v1h-1zM425 325h1v1h-1zM426 325h1v1h-1zM427 325h1v1h-1zM428 324h1v1h-1zM429 324h1v1h-1zM430 324h1v1h-1zM431 322h1v2h-1zM432 321h1v1h-1zM433 320h1v1h-1zM434 318h1v2h-1zM435 317h1v2h-1zM436 319h1v2h-1zM437 321h1v2h-1zM438 323h1v2h-1zM439 325h1v2h-1zM440 327h1v2h-1zM441 327h1v1h-1zM442 326h1v1h-1zM443 326h1v1h-1zM444 325h1v1h-1zM445 324h1v1h-1zM446 322h1v2h-1zM447 320h1v2h-1zM448 319h1v1h-1zM449 317h1v2h-1zM450 315h1v2h-1zM451 313h1v2h-1zM452 310h1v3h-1zM453 307h1v3h-1zM454 305h1v2h-1zM455 300h1v5h-1zM456 293h1v7h-1zM457 285h1v8h-1zM458 278h1v7h-1zM459 271h1v7h-1zM460 267h1v4h-1zM461 266h1v1h-1zM462 265h1v1h-1zM463 264h1v1h-1zM464 263h1v1h-1zM465 262h1v1h-1zM466 261h1v1h-1zM467 261h1v1h-1zM468 260h1v1h-1zM469 260h1v1h-1zM470 259h1v1h-1zM471 259h1v1h-1zM472 258h1v1h-1zM473 258h1v1h-1zM474 257h1v1h-1zM475 257h1v1h-1zM476 258h1v1h-1zM477 258h1v1h-1zM478 259h1v1h-1zM479 259h1v1h-1zM480 259h1v2h-1zM481 256h1v3h-1zM482 253h1v3h-1zM483 250h1v3h-1zM484 247h1v3h-1zM485 245h1v2h-1zM486 247h1v2h-1zM487 249h1v3h-1zM488 252h1v3h-1zM489 255h1v2h-1zM490 257h1v2h-1zM491 259h1v2h-1zM492 261h1v2h-1zM493 263h1v1h-1zM494 264h1v2h-1zM495 266h1v2h-1zM496 268h1v3h-1zM497 271h1v4h-1zM498 275h1v3h-1zM499 278h1v3h-1zM500 281h1v2h-1zM501 282h1v1h-1zM502 283h1v1h-1zM503 283h1v1h-1zM504 284h1v1h-1zM505 283h1v2h-1zM506 281h1v2h-1zM507 278h1v3h-1zM508 276h1v2h-1zM509 274h1v2h-1zM510 272h1v2h-1zM511 270h1v2h-1zM512 268h1v2h-1zM513 267h1v1h-1zM514 265h1v2h-1zM515 262h1v3h-1zM516 258h1v4h-1zM517 254h1v4h-1zM518 250h1v4h-1zM519 246h1v4h-1zM520 243h1v3h-1zM521 245h1v4h-1zM522 249h1v3h-1zM523 252h1v3h-1zM524 255h1v4h-1zM525 259h1v3h-1zM526 262h1v3h-1zM527 265h1v4h-1zM528 269h1v3h-1zM529 272h1v3h-1zM530 275h1v2h-1zM531 276h1v1h-1zM532 277h1v1h-1zM533 277h1v1h-1zM534 278h1v1h-1zM535 278h1v1h-1zM536 277h1v1h-1zM537 276h1v1h-1zM538 276h1v1h-1zM539 275h1v1h-1zM540 274h1v1h-1zM541 275h1v2h-1zM542 277h1v1h-1zM543 278h1v1h-1zM544 279h1v2h-1zM545 281h1v1h-1zM546 281h1v1h-1zM547 280h1v1h-1zM548 280h1v1h-1zM549 279h1v1h-1zM550 277h1v3h-1zM551 271h1v6h-1zM552 265h1v6h-1zM553 259h1v6h-1zM554 253h1v6h-1zM555 247h1v6h-1zM556 241h1v6h-1zM557 234h1v7h-1zM558 228h1v6h-1zM559 222h1v6h-1zM560 218h1v4h-1zM561 219h1v2h-1zM562 221h1v1h-1zM563 222h1v1h-1zM564 223h1v2h-1zM565 225h1v1h-1zM566 225h1v1h-1zM567 224h1v1h-1zM568 224h1v1h-1zM569 223h1v1h-1zM570 223h1v1h-1zM571 223h1v1h-1zM572 223h1v1h-1zM573 222h1v1h-1zM574 222h1v1h-1zM575 222h1v1h-1zM576 222h1v1h-1zM577 222h1v1h-1zM578 222h1v1h-1zM579 222h1v1h-1zM580 222h1v1h-1zM581 222h1v1h-1zM582 221h1v1h-1zM583 221h1v1h-1zM584 220h1v1h-1zM585 220h1v2h-1zM586 222h1v2h-1zM587 224h1v3h-1zM588 227h1v3h-1zM589 230h1v2h-1zM590 232h1v2h-1zM591 232h1v1h-1zM592 232h1v1h-1zM593 231h1v1h-1zM594 231h1v1h-1zM595 229h1v2h-1zM596 225h1v4h-1zM597 221h1v4h-1zM598 217h1v4h-1zM599 213h1v4h-1zM600 211h1v2h-1zM601 210h1v1h-1zM602 209h1v1h-1zM603 208h1v1h-1zM604 207h1v1h-1zM605 205h1v2h-1zM606 203h1v2h-1zM607 201h1v2h-1zM608 199h1v2h-1zM609 197h1v2h-1zM610 196h1v1h-1zM611 196h1v1h-1zM612 197h1v1h-1zM613 197h1v1h-1zM614 198h1v1h-1zM615 198h1v3h-1zM616 201h1v4h-1zM617 205h1v5h-1zM618 210h1v5h-1zM619 215h1v4h-1zM620 219h1v4h-1zM621 223h1v4h-1zM622 227h1v4h-1zM623 231h1v4h-1zM624 235h1v4h-1zM625 239h1v2h-1zM626 241h1v1h-1zM627 242h1v1h-1zM628 242h1v1h-1zM629 243h1v1h-1zM630 244h1v1h-1zM631 245h1v2h-1zM632 247h1v1h-1zM633 248h1v1h-1zM634 249h1v2h-1zM635 251h1v1h-1zM636 251h1v1h-1zM637 251h1v1h-1zM638 252h1v1h-1zM639 252h1v1h-1zM640 252h1v1h-1zM641 252h1v1h-1zM642 253h1v1h-1zM643 253h1v1h-1zM644 254h1v1h-1zM645 254h1v4h-1zM646 258h1v6h-1zM647 264h1v7h-1zM648 271h1v6h-1zM649 277h1v6h-1zM650 283h1v5h-1zM651 288h1v2h-1zM652 290h1v3h-1zM653 293h1v2h-1zM654 295h1v2h-1zM655 297h1v2h-1zM656 299h1v2h-1zM657 301h1v2h-1zM658 303h1v1h-1zM659 304h1v2h-1zM660 306h1v1h-1zM661 306h1v1h-1zM662 306h1v1h-1zM663 305h1v1h-1zM664 305h1v1h-1zM665 305h1v1h-1zM666 305h1v1h-1zM667 305h1v1h-1zM668 304h1v1h-1zM669 304h1v1h-1zM670 304h1v1h-1zM671 303h1v1h-1zM672 303h1v1h-1zM673 302h1v1h-1zM674 302h1v1h-1zM675 301h1v1h-1zM676 302h1v1h-1zM677 303h1v2h-1zM678 305h1v1h-1zM679 306h1v1h-1zM680 307h1v1h-1zM681 307h1v1h-1zM682 308h1v1h-1zM683 308h1v1h-1zM684 309h1v1h-1zM685 309h1v1h-1zM686 308h1v1h-1zM687 307h1v1h-1zM688 306h1v1h-1zM689 305h1v1h-1zM690 304h1v2h-1zM691 306h1v2h-1zM692 308h1v2h-1zM693 310h1v2h-1zM694 312h1v2h-1zM695 314h1v3h-1zM696 317h1v4h-1zM697 321h1v3h-1zM698 324h1v3h-1zM699 327h1v4h-1zM700 331h1v3h-1zM701 334h1v2h-1zM702 336h1v2h-1zM703 338h1v2h-1zM704 340h1v2h-1zM705 342h1v1h-1zM706 343h1v2h-1zM707 345h1v2h-1zM708 347h1v1h-1zM709 348h1v2h-1zM710 350h1v1h-1zM711 350h1v1h-1zM712 350h1v1h-1zM713 350h1v1h-1zM714 350h1v1h-1zM715 350h1v2h-1zM716 352h1v2h-1zM717 354h1v3h-1zM718 357h1v3h-1zM719 360h1v2h-1zM720 362h1v3h-1zM721 365h1v3h-1zM722 368h1v3h-1zM723 371h1v2h-1zM724 373h1v3h-1zM725 376h1v2h-1zM726 378h1v1h-1zM727 379h1v1h-1zM728 379h1v1h-1zM729 380h1v1h-1zM730 381h1v1h-1zM731 381h1v1h-1zM732 380h1v1h-1zM733 380h1v1h-1zM734 379h1v1h-1zM735 379h1v1h-1zM736 379h1v1h-1zM737 379h1v1h-1zM738 379h1v1h-1zM739 379h1v1h-1zM740 379h1v1h-1zM741 380h1v1h-1zM742 381h1v2h-1zM743 383h1v1h-1zM744 384h1v1h-1zM745 385h1v1h-1zM746 386h1v1h-1zM747 387h1v1h-1zM748 387h1v1h-1zM749 388h1v1h-1zM750 389h1v1h-1zM751 389h1v1h-1zM752 389h1v1h-1zM753 388h1v1h-1zM754 388h1v1h-1zM755 388h1v1h-1z"/>
<path fill="#d40000" d="M40 236h1v1h-1zM41 237h1v1h-1zM42 238h1v1h-1zM43 239h1v1h-1zM44 240h1v1h-1zM45 241h1v1h-1zM46 242h1v1h-1zM47 242h1v1h-1zM48 243h1v1h-1zM49 243h1v1h-1zM50 244h1v1h-1zM51 244h1v1h-1zM52 245h1v1h-1zM53 245h1v1h-1zM54 246h1v1h-1zM55 246h1v1h-1zM56 247h1v1h-1zM57 248h1v1h-1zM58 248h1v1h-1zM59 249h1v1h-1zM60 250h1v1h-1zM61 251h1v1h-1zM62 252h1v2h-1zM63 254h1v1h-1zM64 255h1v1h-1zM65 256h1v1h-1zM66 257h1v2h-1zM67 259h1v2h-1zM68 261h1v2h-1zM69 263h1v2h-1zM70 265h1v1h-1zM71 266h1v2h-1zM72 268h1v1h-1zM73 269h1v1h-1zM74 270h1v2h-1zM75 272h1v1h-1zM76 273h1v1h-1zM77 274h1v1h-1zM78 275h1v1h-1zM79 276h1v1h-1zM80 277h1v1h-1zM81 278h1v1h-1zM82 279h1v2h-1zM83 281h1v1h-1zM84 282h1v1h-1zM85 283h1v1h-1zM86 283h1v1h-1zM87 284h1v1h-1zM88 284h1v1h-1zM89 285h1v1h-1zM90 285h1v1h-1zM91 285h1v1h-1zM92 286h1v1h-1zM93 286h1v1h-1zM94 287h1v1h-1zM95 287h1v1h-1zM96 288h1v1h-1zM97 289h1v1h-1zM98 290h1v1h-1zM99 291h1v1h-1zM100 292h1v1h-1zM101 293h1v1h-1zM102 294h1v2h-1zM103 296h1v1h-1zM104 297h1v1h-1zM105 298h1v1h-1zM106 299h1v1h-1zM107 299h1v1h-1zM108 300h1v1h-1zM109 300h1v1h-1zM110 301h1v1h-1zM111 302h1v1h-1zM112 302h1v1h-1zM113 303h1v1h-1zM114 303h1v1h-1zM115 304h1v1h-1zM116 304h1v1h-1zM117 304h1v1h-1zM118 304h1v1h-1zM119 304h1v1h-1zM120 304h1v1h-1zM121 304h1v1h-1zM122 304h1v1h-1zM123 304h1v1h-1zM124 304h1v1h-1zM125 304h1v1h-1zM126 304h1v1h-1zM127 304h1v1h-1zM128 305h1v1h-1zM129 305h1v1h-1zM130 305h1v1h-1zM131 306h1v1h-1zM132 307h1v2h-1zM133 309h1v1h-1zM134 310h1v1h-1zM135 311h1v1h-1zM136 312h1v1h-1zM137 313h1v1h-1zM138 314h1v1h-1zM139 315h1v1h-1zM140 316h1v1h-1zM141 316h1v1h-1zM142 317h1v1h-1zM143 317h1v1h-1zM144 318h1v1h-1zM145 318h1v1h-1zM146 319h1v1h-1zM147 320h1v1h-1zM148 321h1v1h-1zM149 322h1v1h-1zM150 323h1v1h-1zM151 324h1v1h-1zM152 325h1v1h-1zM153 326h1v1h-1zM154 327h1v1h-1zM155 328h1v1h-1zM156 329h1v1h-1zM157 329h1v1h-1zM158 330h1v1h-1zM159 330h1v1h-1zM160 331h1v1h-1zM161 331h1v1h-1zM162 332h1v1h-1zM163 332h1v1h-1zM164 333h1v1h-1zM165 333h1v1h-1zM166 332h1v1h-1zM167 332h1v1h-1zM168 331h1v1h-1zM169 331h1v1h-1zM170 330h1v1h-1zM171 329h1v1h-1zM172 327h1v2h-1zM173 326h1v1h-1zM174 325h1v1h-1zM175 324h1v1h-1zM176 324h1v1h-1zM177 324h1v1h-1zM178 324h1v1h-1zM179 324h1v1h-1zM180 324h1v1h-1zM181 325h1v2h-1zM182 327h1v2h-1zM183 329h1v2h-1zM184 331h1v2h-1zM185 333h1v1h-1zM186 334h1v1h-1zM187 334h1v1h-1zM188 335h1v1h-1zM189 335h1v1h-1zM190 336h1v1h-1zM191 337h1v2h-1zM192 339h1v2h-1zM193 341h1v2h-1zM194 343h1v2h-1zM195 345h1v1h-1zM196 346h1v2h-1zM197 348h1v2h-1zM198 350h1v1h-1zM199 351h1v2h-1zM200 353h1v1h-1zM201 352h1v1h-1zM202 350h1v2h-1zM203 349h1v1h-1zM204 348h1v1h-1zM205 347h1v1h-1zM206 348h1v1h-1zM207 348h1v1h-1zM208 349h1v1h-1zM209 349h1v1h-1zM210 349h1v2h-1zM211 347h1v2h-1zM212 345h1v2h-1zM213 343h1v2h-1zM214 341h1v2h-1zM215 339h1v2h-1zM216 337h1v2h-1zM217 335h1v2h-1zM218 333h1v2h-1zM219 331h1v2h-1zM220 327h1v4h-1zM221 323h1v4h-1zM222 319h1v4h-1zM223 315h1v4h-1zM224 311h1v4h-1zM225 307h1v4h-1zM226 304h1v3h-1zM227 301h1v3h-1zM228 298h1v3h-1zM229 295h1v3h-1zM230 292h1v3h-1zM231 290h1v2h-1zM232 288h1v2h-1zM233 286h1v2h-1zM234 284h1v2h-1zM235 283h1v1h-1zM236 282h1v1h-1zM237 282h1v1h-1zM238 281h1v1h-1zM239 281h1v1h-1zM240 280h1v1h-1zM241 280h1v1h-1zM242 281h1v1h-1zM243 281h1v1h-1zM244 282h1v1h-1zM245 282h1v1h-1zM246 283h1v2h-1zM247 285h1v2h-1zM248 287h1v1h-1zM249 288h1v2h-1zM250 290h1v1h-1zM251 289h1v1h-1zM252 287h1v2h-1zM253 286h1v1h-1zM254 285h1v1h-1zM255 284h1v1h-1zM256 283h1v1h-1zM257 281h1v2h-1zM258 280h1v1h-1zM259 279h1v1h-1zM260 278h1v1h-1zM261 278h1v1h-1zM262 277h1v1h-1zM263 277h1v1h-1zM264 276h1v1h-1zM265 276h1v1h-1zM266 277h1v2h-1zM267 279h1v2h-1zM268 281h1v1h-1zM269 282h1v2h-1zM270 284h1v1h-1zM271 283h1v1h-1zM272 281h1v2h-1zM273 280h1v1h-1zM274 279h1v1h-1zM275 278h1v1h-1zM276 278h1v1h-1zM277 279h1v1h-1zM278 279h1v1h-1zM279 280h1v1h-1zM280 280h1v1h-1zM281 278h1v2h-1zM282 277h1v1h-1zM283 276h1v1h-1zM284 274h1v2h-1zM285 273h1v1h-1zM286 272h1v1h-1zM287 271h1v1h-1zM288 270h1v1h-1zM289 269h1v1h-1zM290 268h1v1h-1zM291 268h1v1h-1zM292 267h1v1h-1zM293 267h1v1h-1zM294 266h1v1h-1zM295 266h1v1h-1zM296 264h1v2h-1zM297 262h1v2h-1zM298 261h1v1h-1zM299 259h1v2h-1zM300 258h1v1h-1zM301 258h1v1h-1zM302 258h1v1h-1zM303 259h1v1h-1zM304 259h1v1h-1zM305 258h1v2h-1zM306 254h1v4h-1zM307 250h1v4h-1zM308 246h1v4h-1zM309 242h1v4h-1zM310 240h1v2h-1zM311 239h1v1h-1zM312 237h1v2h-1zM313 236h1v1h-1zM314 235h1v1h-1zM315 233h1v2h-1zM316 231h1v2h-1zM317 229h1v2h-1zM318 227h1v2h-1zM319 225h1v2h-1zM320 223h1v2h-1zM321 221h1v2h-1zM322 220h1v1h-1zM323 219h1v1h-1zM324 217h1v2h-1zM325 216h1v1h-1zM326 214h1v2h-1zM327 212h1v2h-1zM328 210h1v2h-1zM329 208h1v2h-1zM330 207h1v1h-1zM331 207h1v1h-1zM332 206h1v1h-1zM333 206h1v1h-1zM334 205h1v1h-1zM335 205h1v1h-1zM336 206h1v1h-1zM337 206h1v1h-1zM338 207h1v1h-1zM339 207h1v1h-1zM340 206h1v3h-1zM341 202h1v4h-1zM342 197h1v5h-1zM343 193h1v4h-1zM344 189h1v4h-1zM345 185h1v4h-1zM346 183h1v2h-1zM347 181h1v2h-1zM348 179h1v2h-1zM349 177h1v2h-1zM350 176h1v2h-1zM351 178h1v2h-1zM352 180h1v2h-1zM353 182h1v2h-1zM354 184h1v2h-1zM355 186h1v2h-1zM356 187h1v1h-1zM357 186h1v1h-1zM358 186h1v1h-1zM359 185h1v1h-1zM360 185h1v3h-1zM361 188h1v4h-1zM362 192h1v4h-1zM363 196h1v4h-1zM364 200h1v4h-1zM365 204h1v3h-1zM366 206h1v1h-1zM367 205h1v1h-1zM368 205h1v1h-1zM369 204h1v1h-1zM370 204h1v1h-1zM371 204h1v1h-1zM372 203h1v1h-1zM373 203h1v1h-1zM374 202h1v1h-1zM375 202h1v2h-1zM376 204h1v4h-1zM377 208h1v4h-1zM378 212h1v3h-1zM379 215h1v4h-1zM380 219h1v3h-1zM381 222h1v3h-1zM382 225h1v3h-1zM383 228h1v2h-1zM384 230h1v3h-1zM385 233h1v2h-1zM386 234h1v1h-1zM387 234h1v1h-1zM388 234h1v1h-1zM389 234h1v1h-1zM390 234h1v1h-1zM391 234h1v1h-1zM392 234h1v1h-1zM393 234h1v1h-1zM394 234h1v1h-1zM395 234h1v1h-1zM396 232h1v2h-1zM397 230h1v2h-1zM398 229h1v1h-1zM399 227h1v2h-1zM400 226h1v1h-1zM401 226h1v1h-1zM402 227h1v1h-1zM403 227h1v1h-1zM404 228h1v1h-1zM405 228h1v4h-1zM406 232h1v6h-1zM407 238h1v6h-1zM408 244h1v6h-1zM409 250h1v6h-1zM410 256h1v6h-1zM411 262h1v8h-1zM412 270h1v7h-1zM413 277h1v7h-1zM414 284h1v8h-1zM415 292h1v6h-1zM416 298h1v4h-1zM417 302h1v5h-1zM418 307h1v4h-1zM419 311h1v4h-1zM420 315h1v3h-1zM421 317h1v1h-1zM422 317h1v1h-1zM423 316h1v1h-1zM424 316h1v1h-1zM425 314h1v3h-1zM426 310h1v4h-1zM427 306h1v4h-1zM428 302h1v4h-1zM429 298h1v4h-1zM430 295h1v3h-1zM431 294h1v1h-1zM432 294h1v1h-1zM433 293h1v1h-1zM434 293h1v1h-1zM435 292h1v3h-1zM436 295h1v5h-1zM437 300h1v5h-1zM438 305h1v4h-1zM439 309h1v5h-1zM440 314h1v3h-1zM441 316h1v1h-1zM442 316h1v1h-1zM443 316h1v1h-1zM444 316h1v1h-1zM445 315h1v2h-1zM446 313h1v2h-1zM447 311h1v2h-1zM448 309h1v2h-1zM449 307h1v2h-1zM450 302h1v5h-1zM451 294h1v8h-1zM452 286h1v8h-1zM453 278h1v8h-1zM454 270h1v8h-1zM455 264h1v6h-1zM456 259h1v5h-1zM457 254h1v5h-1zM458 250h1v4h-1zM459 245h1v5h-1zM460 241h1v4h-1zM461 239h1v2h-1zM462 237h1v2h-1zM463 235h1v2h-1zM464 233h1v2h-1zM465 232h1v1h-1zM466 232h1v1h-1zM467 232h1v1h-1zM468 232h1v1h-1zM469 232h1v1h-1zM470 232h1v2h-1zM471 234h1v3h-1zM472 237h1v3h-1zM473 240h1v3h-1zM474 243h1v3h-1zM475 246h1v2h-1zM476 244h1v2h-1zM477 242h1v2h-1zM478 240h1v2h-1zM479 238h1v2h-1zM480 237h1v1h-1zM481 237h1v1h-1zM482 237h1v1h-1zM483 236h1v1h-1zM484 236h1v1h-1zM485 236h1v1h-1zM486 236h1v1h-1zM487 237h1v1h-1zM488 237h1v1h-1zM489 238h1v1h-1zM490 238h1v2h-1zM491 240h1v2h-1zM492 242h1v2h-1zM493 244h1v2h-1zM494 246h1v2h-1zM495 248h1v2h-1zM496 250h1v2h-1zM497 252h1v2h-1zM498 254h1v2h-1zM499 256h1v2h-1zM500 258h1v2h-1zM501 260h1v2h-1zM502 262h1v2h-1zM503 264h1v2h-1zM504 266h1v2h-1zM505 268h1v1h-1zM506 267h1v1h-1zM507 267h1v1h-1zM508 266h1v1h-1zM509 266h1v1h-1zM510 263h1v3h-1zM511 259h1v4h-1zM512 254h1v5h-1zM513 249h1v5h-1zM514 245h1v4h-1zM515 241h1v4h-1zM516 238h1v3h-1zM517 234h1v4h-1zM518 231h1v3h-1zM519 228h1v3h-1zM520 226h1v2h-1zM521 228h1v3h-1zM522 231h1v4h-1zM523 235h1v3h-1zM524 238h1v3h-1zM525 241h1v3h-1zM526 244h1v2h-1zM527 246h1v3h-1zM528 249h1v3h-1zM529 252h1v2h-1zM530 254h1v2h-1zM531 256h1v2h-1zM532 258h1v2h-1zM533 260h1v1h-1zM534 261h1v2h-1zM535 263h1v1h-1zM536 263h1v1h-1zM537 262h1v1h-1zM538 262h1v1h-1zM539 261h1v1h-1zM540 261h1v2h-1zM541 263h1v2h-1zM542 265h1v3h-1zM543 268h1v2h-1zM544 270h1v2h-1zM545 272h1v2h-1zM546 268h1v4h-1zM547 265h1v3h-1zM548 262h1v3h-1zM549 258h1v4h-1zM550 252h1v6h-1zM551 244h1v8h-1zM552 236h1v8h-1zM553 228h1v8h-1zM554 220h1v8h-1zM555 215h1v5h-1zM556 213h1v2h-1zM557 210h1v3h-1zM558 208h1v2h-1zM559 206h1v2h-1zM560 204h1v2h-1zM561 204h1v1h-1zM562 204h1v1h-1zM563 204h1v1h-1zM564 204h1v1h-1zM565 204h1v1h-1zM566 205h1v1h-1zM567 206h1v1h-1zM568 206h1v1h-1zM569 207h1v1h-1zM570 208h1v1h-1zM571 208h1v1h-1zM572 209h1v1h-1zM573 209h1v1h-1zM574 210h1v1h-1zM575 210h1v1h-1zM576 211h1v1h-1zM577 212h1v1h-1zM578 212h1v1h-1zM579 213h1v1h-1zM580 214h1v1h-1zM581 214h1v1h-1zM582 213h1v1h-1zM583 213h1v1h-1zM584 212h1v1h-1zM585 212h1v1h-1zM586 213h1v2h-1zM587 215h1v2h-1zM588 217h1v1h-1zM589 218h1v2h-1zM590 219h1v2h-1zM591 217h1v2h-1zM592 215h1v2h-1zM593 213h1v2h-1zM594 211h1v2h-1zM595 209h1v2h-1zM596 208h1v1h-1zM597 208h1v1h-1zM598 207h1v1h-1zM599 207h1v1h-1zM600 205h1v2h-1zM601 201h1v4h-1zM602 198h1v3h-1zM603 195h1v3h-1zM604 191h1v4h-1zM605 189h1v2h-1zM606 188h1v1h-1zM607 188h1v1h-1zM608 187h1v1h-1zM609 187h1v1h-1zM610 186h1v1h-1zM611 187h1v1h-1zM612 188h1v1h-1zM613 188h1v1h-1zM614 189h1v1h-1zM615 190h1v1h-1zM616 191h1v2h-1zM617 193h1v2h-1zM618 195h1v1h-1zM619 196h1v2h-1zM620 198h1v3h-1zM621 201h1v5h-1zM622 206h1v5h-1zM623 211h1v4h-1zM624 215h1v5h-1zM625 220h1v4h-1zM626 224h1v4h-1zM627 228h1v3h-1zM628 231h1v3h-1zM629 234h1v4h-1zM630 238h1v2h-1zM631 240h1v1h-1zM632 241h1v2h-1zM633 243h1v1h-1zM634 244h1v1h-1zM635 245h1v1h-1zM636 245h1v1h-1zM637 245h1v1h-1zM638 245h1v1h-1zM639 245h1v1h-1zM640 245h1v1h-1zM641 245h1v1h-1zM642 246h1v1h-1zM643 246h1v1h-1zM644 247h1v1h-1zM645 247h1v1h-1zM646 248h1v2h-1zM647 250h1v2h-1zM648 252h1v1h-1zM649 253h1v2h-1zM650 255h1v4h-1zM651 259h1v7h-1zM652 266h1v7h-1zM653 273h1v6h-1zM654 279h1v7h-1zM655 286h1v5h-1zM656 291h1v2h-1zM657 293h1v2h-1zM658 295h1v2h-1zM659 297h1v2h-1zM660 299h1v2h-1zM661 300h1v1h-1zM662 300h1v1h-1zM663 300h1v1h-1zM664 300h1v1h-1zM665 300h1v1h-1zM666 300h1v1h-1zM667 300h1v1h-1zM668 300h1v1h-1zM669 300h1v1h-1zM670 300h1v1h-1zM671 299h1v1h-1zM672 298h1v1h-1zM673 297h1v1h-1zM674 296h1v1h-1zM675 295h1v1h-1zM676 296h1v1h-1zM677 297h1v1h-1zM678 297h1v1h-1zM679 298h1v1h-1zM680 299h1v1h-1zM681 300h1v1h-1zM682 300h1v1h-1zM683 301h1v1h-1zM684 301h1v1h-1zM685 302h1v1h-1zM686 302h1v1h-1zM687 301h1v1h-1zM688 301h1v1h-1zM689 300h1v1h-1zM690 300h1v1h-1zM691 301h1v1h-1zM692 302h1v1h-1zM693 303h1v1h-1zM694 304h1v1h-1zM695 305h1v2h-1zM696 307h1v2h-1zM697 309h1v2h-1zM698 311h1v2h-1zM699 313h1v2h-1zM700 315h1v3h-1zM701 318h1v4h-1zM702 322h1v3h-1zM703 325h1v3h-1zM704 328h1v4h-1zM705 332h1v2h-1zM706 334h1v2h-1zM707 336h1v2h-1zM708 338h1v1h-1zM709 339h1v2h-1zM710 341h1v1h-1zM711 342h1v2h-1zM712 344h1v1h-1zM713 345h1v1h-1zM714 346h1v2h-1zM715 348h1v1h-1zM716 348h1v1h-1zM717 349h1v1h-1zM718 349h1v1h-1zM719 350h1v1h-1zM720 350h1v2h-1zM721 352h1v2h-1zM722 354h1v3h-1zM723 357h1v2h-1zM724 359h1v2h-1zM725 361h1v3h-1zM726 364h1v3h-1zM727 367h1v3h-1zM728 370h1v2h-1zM729 372h1v3h-1zM730 375h1v2h-1zM731 376h1v1h-1zM732 376h1v1h-1zM733 376h1v1h-1zM734 376h1v1h-1zM735 376h1v1h-1zM736 376h1v1h-1zM737 375h1v1h-1zM738 375h1v1h-1zM739 374h1v1h-1zM740 374h1v1h-1zM741 375h1v1h-1zM742 376h1v1h-1zM743 377h1v1h-1zM744 378h1v1h-1zM745 379h1v1h-1zM746 380h1v1h-1zM747 381h1v1h-1zM748 382h1v1h-1zM749 383h1v1h-1zM750 384h1v1h-1zM751 384h1v1h-1zM752 384h1v1h-1zM753 384h1v1h-1zM754 384h1v1h-1zM755 384h1v1h-1z"/>
</g>
<g shape-rendering="crispEdges" stroke="#000" stroke-width="1" fill="none">
<line x1="40" y1="57.5" x2="760" y2="57.5" stroke-dasharray="3 3"/>
<line x1="40" y1="78.5" x2="760" y2="78.5" stroke-dasharray="3 3"/>
<line x1="40" y1="99.5" x2="760" y2="99.5" stroke-dasharray="3 3"/>
<line x1="40" y1="121.5" x2="760" y2="121.5" stroke-dasharray="3 3"/>
<line x1="40" y1="142.5" x2="760" y2="142.5" stroke-dasharray="3 3"/>
<line x1="40" y1="163.5" x2="760" y2="163.5" stroke-dasharray="3 3"/>
<line x1="40" y1="185.5" x2="760" y2="185.5" stroke-dasharray="3 3"/>
<line x1="40" y1="206.5" x2="760" y2="206.5" stroke-dasharray="3 3"/>
<line x1="40" y1="227.5" x2="760" y2="227.5" stroke-dasharray="3 3"/>
<line x1="40" y1="249.5" x2="760" y2="249.5" stroke-dasharray="3 3"/>
<line x1="40" y1="270.5" x2="760" y2="270.5" stroke-dasharray="3 3"/>
<line x1="40" y1="291.5" x2="760" y2="291.5" stroke-dasharray="3 3"/>
<line x1="40" y1="312.5" x2="760" y2="312.5" stroke-dasharray="3 3"/>
<line x1="40" y1="334.5" x2="760" y2="334.5" stroke-dasharray="3 3"/>
<line x1="40" y1="355.5" x2="760" y2="355.5" stroke-dasharray="3 3"/>
<line x1="40" y1="376.5" x2="760" y2="376.5" stroke-dasharray="3 3"/>
<line x1="40" y1="398.5" x2="760" y2="398.5" stroke-dasharray="3 3"/>
<line x1="40" y1="419.5" x2="760" y2="419.5" stroke-dasharray="3 3"/>
<line x1="40" y1="440.5" x2="760" y2="440.5" stroke-dasharray="3 3"/>
<line x1="130.5" y1="40" x2="130.5" y2="460" stroke-dasharray="3 3"/>
<line x1="220.5" y1="40" x2="220.5" y2="460" stroke-dasharray="3 3"/>
<line x1="310.5" y1="40" x2="310.5" y2="460" stroke-dasharray="3 3"/>
<line x1="400.5" y1="40" x2="400.5" y2="460" stroke-dasharray="3 3"/>
<line x1="490.5" y1="40" x2="490.5" y2="460" stroke-dasharray="3 3"/>
<line x1="580.5" y1="40" x2="580.5" y2="460" stroke-dasharray="3 3"/>
<line x1="670.5" y1="40" x2="670.5" y2="460" stroke-dasharray="3 3"/>
</g>
<g shape-rendering="crispEdges" fill="#000">
<rect x="40" y="40" width="721" height="1"/>
<rect x="40" y="460" width="721" height="1"/>
<rect x="40" y="40" width="1" height="421"/>
<rect x="760" y="40" width="1" height="421"/>
<rect x="40" y="461" width="1" height="2"/>
<rect x="70" y="461" width="1" height="2"/>
<rect x="100" y="461" width="1" height="2"/>
<rect x="130" y="461" width="1" height="2"/>
<rect x="160" y="461" width="1" height="2"/>
<rect x="190" y="461" width="1" height="2"/>
<rect x="220" y="461" width="1" height="2"/>
<rect x="250" y="461" width="1" height="2"/>
<rect x="280" y="461" width="1" height="2"/>
<rect x="310" y="461" width="1" height="2"/>
<rect x="340" y="461" width="1" height="2"/>
<rect x="370" y="461" width="1" height="2"/>
<rect x="400" y="461" width="1" height="2"/>
<rect x="430" y="461" width="1" height="2"/>
<rect x="460" y="461" width="1" height="2"/>
<rect x="490" y="461" width="1" height="2"/>
<rect x="520" y="461" width="1" height="2"/>
<rect x="550" y="461" width="1" height="2"/>
<rect x="580" y="461" width="1" height="2"/>
<rect x="610" y="461" width="1" height="2"/>
<rect x="640" y="461" width="1" height="2"/>
<rect x="670" y="461" width="1" height="2"/>
<rect x="700" y="461" width="1" height="2"/>
<rect x="730" y="461" width="1" height="2"/>
<rect x="760" y="461" width="1" height="2"/>
</g>
<text x="26.0" y="48.0" font-size="9.8" fill="#000" stroke="#000" stroke-width="0.25" textLength="11.3" lengthAdjust="spacingAndGlyphs">°C</text>
<text x="19.2" y="60.8" font-size="9.8" fill="#000" stroke="#000" stroke-width="0.25" textLength="17.5" lengthAdjust="spacingAndGlyphs">26,0</text>
<text x="19.2" y="81.8" font-size="9.8" fill="#000" stroke="#000" stroke-width="0.25" textLength="17.5" lengthAdjust="spacingAndGlyphs">25,5</text>
<text x="19.2" y="102.8" font-size="9.8" fill="#000" stroke="#000" stroke-width="0.25" textLength="17.5" lengthAdjust="spacingAndGlyphs">25,0</text>
<text x="19.2" y="124.8" font-size="9.8" fill="#000" stroke="#000" stroke-width="0.25" textLength="17.5" lengthAdjust="spacingAndGlyphs">24,5</text>
<text x="19.2" y="145.8" font-size="9.8" fill="#000" stroke="#000" stroke-width="0.25" textLength="17.5" lengthAdjust="spacingAndGlyphs">24,0</text>
<text x="19.2" y="166.8" font-size="9.8" fill="#000" stroke="#000" stroke-width="0.25" textLength="17.5" lengthAdjust="spacingAndGlyphs">23,5</text>
<text x="19.2" y="188.8" font-size="9.8" fill="#000" stroke="#000" stroke-width="0.25" textLength="17.5" lengthAdjust="spacingAndGlyphs">23,0</text>
<text x="19.2" y="209.8" font-size="9.8" fill="#000" stroke="#000" stroke-width="0.25" textLength="17.5" lengthAdjust="spacingAndGlyphs">22,5</text>
<text x="19.2" y="230.8" font-size="9.8" fill="#000" stroke="#000" stroke-width="0.25" textLength="17.5" lengthAdjust="spacingAndGlyphs">22,0</text>
<text x="19.2" y="252.8" font-size="9.8" fill="#000" stroke="#000" stroke-width="0.25" textLength="17.5" lengthAdjust="spacingAndGlyphs">21,5</text>
<text x="19.2" y="273.8" font-size="9.8" fill="#000" stroke="#000" stroke-width="0.25" textLength="17.5" lengthAdjust="spacingAndGlyphs">21,0</text>
<text x="19.2" y="294.8" font-size="9.8" fill="#000" stroke="#000" stroke-width="0.25" textLength="17.5" lengthAdjust="spacingAndGlyphs">20,5</text>
<text x="19.2" y="315.8" font-size="9.8" fill="#000" stroke="#000" stroke-width="0.25" textLength="17.5" lengthAdjust="spacingAndGlyphs">20,0</text>
<text x="19.2" y="337.8" font-size="9.8" fill="#000" stroke="#000" stroke-width="0.25" textLength="17.5" lengthAdjust="spacingAndGlyphs">19,5</text>
<text x="19.2" y="358.8" font-size="9.8" fill="#000" stroke="#000" stroke-width="0.25" textLength="17.5" lengthAdjust="spacingAndGlyphs">19,0</text>
<text x="19.2" y="379.8" font-size="9.8" fill="#000" stroke="#000" stroke-width="0.25" textLength="17.5" lengthAdjust="spacingAndGlyphs">18,5</text>
<text x="19.2" y="401.8" font-size="9.8" fill="#000" stroke="#000" stroke-width="0.25" textLength="17.5" lengthAdjust="spacingAndGlyphs">18,0</text>
<text x="19.2" y="422.8" font-size="9.8" fill="#000" stroke="#000" stroke-width="0.25" textLength="17.5" lengthAdjust="spacingAndGlyphs">17,5</text>
<text x="19.2" y="443.8" font-size="9.8" fill="#000" stroke="#000" stroke-width="0.25" textLength="17.5" lengthAdjust="spacingAndGlyphs">17,0</text>
<text x="27.1" y="477.0" font-size="9.8" fill="#000" stroke="#000" stroke-width="0.25" textLength="22.5" lengthAdjust="spacingAndGlyphs">00:00</text>
<text x="19.0" y="492.0" font-size="9.8" fill="#000" stroke="#000" stroke-width="0.25" textLength="35.8" lengthAdjust="spacingAndGlyphs">07.08.24</text>
<text x="117.1" y="477.0" font-size="9.8" fill="#000" stroke="#000" stroke-width="0.25" textLength="22.5" lengthAdjust="spacingAndGlyphs">03:00</text>
<text x="109.0" y="492.0" font-size="9.8" fill="#000" stroke="#000" stroke-width="0.25" textLength="35.8" lengthAdjust="spacingAndGlyphs">07.08.24</text>
<text x="207.1" y="477.0" font-size="9.8" fill="#000" stroke="#000" stroke-width="0.25" textLength="22.5" lengthAdjust="spacingAndGlyphs">06:00</text>
<text x="199.0" y="492.0" font-size="9.8" fill="#000" stroke="#000" stroke-width="0.25" textLength="35.8" lengthAdjust="spacingAndGlyphs">07.08.24</text>
<text x="297.1" y="477.0" font-size="9.8" fill="#000" stroke="#000" stroke-width="0.25" textLength="22.5" lengthAdjust="spacingAndGlyphs">09:00</text>
<text x="289.0" y="492.0" font-size="9.8" fill="#000" stroke="#000" stroke-width="0.25" textLength="35.8" lengthAdjust="spacingAndGlyphs">07.08.24</text>
<text x="387.1" y="477.0" font-size="9.8" fill="#000" stroke="#000" stroke-width="0.25" textLength="22.5" lengthAdjust="spacingAndGlyphs">12:00</text>
<text x="379.0" y="492.0" font-size="9.8" fill="#000" stroke="#000" stroke-width="0.25" textLength="35.8" lengthAdjust="spacingAndGlyphs">07.08.24</text>
<text x="477.1" y="477.0" font-size="9.8" fill="#000" stroke="#000" stroke-width="0.25" textLength="22.5" lengthAdjust="spacingAndGlyphs">15:00</text>
<text x="469.0" y="492.0" font-size="9.8" fill="#000" stroke="#000" stroke-width="0.25" textLength="35.8" lengthAdjust="spacingAndGlyphs">07.08.24</text>
<text x="567.1" y="477.0" font-size="9.8" fill="#000" stroke="#000" stroke-width="0.25" textLength="22.5" lengthAdjust="spacingAndGlyphs">18:00</text>
<text x="559.0" y="492.0" font-size="9.8" fill="#000" stroke="#000" stroke-width="0.25" textLength="35.8" lengthAdjust="spacingAndGlyphs">07.08.24</text>
<text x="657.1" y="477.0" font-size="9.8" fill="#000" stroke="#000" stroke-width="0.25" textLength="22.5" lengthAdjust="spacingAndGlyphs">21:00</text>
<text x="649.0" y="492.0" font-size="9.8" fill="#000" stroke="#000" stroke-width="0.25" textLength="35.8" lengthAdjust="spacingAndGlyphs">07.08.24</text>
<text x="747.1" y="477.0" font-size="9.8" fill="#000" stroke="#000" stroke-width="0.25" textLength="22.5" lengthAdjust="spacingAndGlyphs">00:00</text>
<text x="739.0" y="492.0" font-size="9.8" fill="#000" stroke="#000" stroke-width="0.25" textLength="35.8" lengthAdjust="spacingAndGlyphs">08.08.24</text>
</svg>
</body></html>
